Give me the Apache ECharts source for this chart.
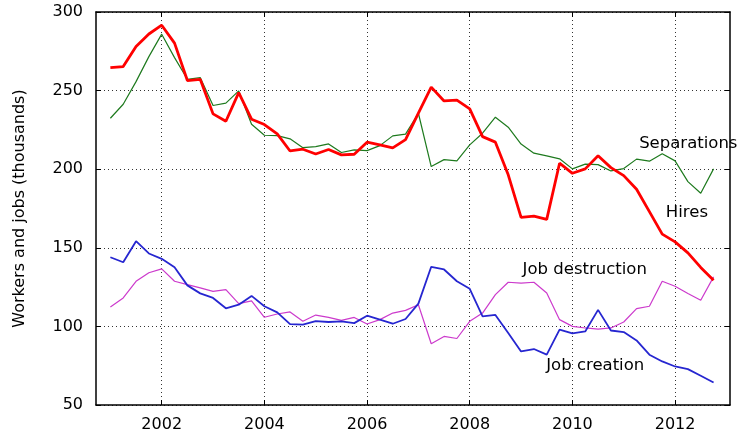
<!DOCTYPE html>
<html>
<head>
<meta charset="utf-8">
<script src="https://cdn.jsdelivr.net/npm/echarts@6/dist/echarts.min.js"></script>
<style>
html,body{margin:0;padding:0;background:#fff;}
#chart{width:741px;height:441px;}
</style>
</head>
<body>
<div id="chart"></div>
<script>
// Quarterly observations, 2001 Q1 .. 2012 Q4
var startYear = 2001;
var quartersCount = 48;
var xTicks = [2002, 2004, 2006, 2008, 2010, 2012];
var yTicks = [50, 100, 150, 200, 250, 300];

var hires = [264.6,265.3,278,286,291.6,280.2,256.4,257.2,235.2,230.5,248.7,231.8,228.4,222.5,211.6,212.7,209.7,
  212.5,209.1,209.5,217.2,215.5,213.6,218.8,235.6,252.2,243.4,243.9,238.4,220.7,217.2,196.4,
  169.4,170.2,168.1,203.8,197.4,200.2,208.5,201,195.9,187.2,173,158.7,153.8,146.8,137.5,129.4];
var separations = [232.4,241.3,255.7,271.6,285.9,271,257.2,258.3,240.5,242,249.8,228.6,221.6,221.4,219.3,213.7,214.4,
  216.1,210.6,212.3,211.8,215,221.2,222.3,235.6,201.7,206.1,205.3,215.5,222.9,233.1,226.7,
  216,210.2,208.5,206.6,200.2,203.2,202.9,198.9,200.4,206.4,205.1,209.8,205.3,192.1,184.7,200.2];
var jobCreation = [144,140.8,154.2,146.4,143,137.6,126.1,121,118.1,111.5,113.8,119.4,112.8,108.9,101.5,101.1,103.3,
  102.8,103.2,102.1,106.8,104.3,101.7,104.7,114.5,137.9,136.2,128.7,123.9,106.4,107.3,95.8,
  84.1,85.6,82,97.9,95.5,96.8,110.5,97.4,96.4,91.1,82,77.7,74.5,72.8,68.6,64.3];
var jobDestruction = [112.4,118.1,128.7,134.1,136.6,128.7,126.6,124.5,122.3,123.4,114.5,116.2,105.8,107.9,109.2,103.3,107.2,
  105.7,103.8,105.7,101.5,104.3,108.5,110.2,113.8,89,93.6,92.3,103.2,108.5,120.2,128.1,
  127.5,128.1,121.3,104.3,100,99,98.3,99,102.8,111.3,112.8,128.7,125.5,120.9,116.6,131.5];

var labelSeparations = {text: 'Separations', x: 2011.3, y: 216.4};
var labelHires = {text: 'Hires', x: 2011.82, y: 172.2};
var labelDestruction = {text: 'Job destruction', x: 2009.03, y: 136.3};
var labelCreation = {text: 'Job creation', x: 2009.49, y: 74.8};

var xs = [];
for (var i = 0; i < quartersCount; i++) xs.push(startYear + i / 4);
function pairs(vals) { return vals.map(function (v, i) { return [xs[i], v]; }); }

var FONT = 'DejaVu Sans';
function annot(lbl) {
  return {
    symbol: 'circle', symbolSize: 0, silent: true,
    label: {show: true, position: 'right', distance: 0, color: '#000', fontFamily: FONT, fontSize: 16.5,
      formatter: function () { return lbl.text; }},
    data: [{coord: [lbl.x, lbl.y]}]
  };
}

var chart = echarts.init(document.getElementById('chart'), null, {renderer: 'canvas'});
var gridLine = {show: true, lineStyle: {color: '#333', width: 1, type: [1, 3]}};
var option = {
  backgroundColor: '#fff',
  animation: false,
  grid: {left: 96, right: 11, top: 12, bottom: 36, containLabel: false},
  xAxis: [{
    type: 'value', min: 2000.72, max: 2013.07,
    axisLine: {show: true, onZero: false, lineStyle: {color: '#000', width: 1.5}},
    axisTick: {show: true, inside: true, length: 5, customValues: xTicks, lineStyle: {color: '#000'}},
    axisLabel: {show: true, customValues: xTicks, margin: 12, color: '#000', fontFamily: FONT, fontSize: 16,
      formatter: function (v) { return String(v); }},
    splitLine: gridLine
  }, {
    type: 'value', position: 'top', min: 2000.72, max: 2013.07,
    axisLine: {show: true, onZero: false, lineStyle: {color: '#000', width: 1.5}},
    axisTick: {show: true, inside: true, length: 5, customValues: xTicks, lineStyle: {color: '#000'}},
    axisLabel: {show: false}, splitLine: {show: false}
  }],
  yAxis: [{
    type: 'value', min: 50, max: 300, interval: 50,
    name: 'Workers and jobs (thousands)', nameLocation: 'middle', nameGap: 68, nameRotate: 90,
    nameTextStyle: {color: '#000', fontFamily: FONT, fontSize: 16},
    axisLine: {show: true, onZero: false, lineStyle: {color: '#000', width: 1.5}},
    axisTick: {show: true, inside: true, length: 5, lineStyle: {color: '#000'}},
    axisLabel: {color: '#000', fontFamily: FONT, fontSize: 16, margin: 13},
    splitLine: gridLine
  }, {
    type: 'value', position: 'right', min: 50, max: 300, interval: 50,
    axisLine: {show: true, onZero: false, lineStyle: {color: '#000', width: 1.5}},
    axisTick: {show: true, inside: true, length: 5, lineStyle: {color: '#000'}},
    axisLabel: {show: false}, splitLine: {show: false}
  }],
  series: [
    {name: 'Separations', type: 'line', data: pairs(separations), showSymbol: false,
      lineStyle: {color: '#1e7a1e', width: 1.2}, itemStyle: {color: '#1e7a1e'}, z: 3,
      markPoint: annot(labelSeparations)},
    {name: 'Hires', type: 'line', data: pairs(hires), showSymbol: false,
      lineStyle: {color: '#ff0000', width: 2.8}, itemStyle: {color: '#ff0000'}, z: 4,
      markPoint: annot(labelHires)},
    {name: 'Job destruction', type: 'line', data: pairs(jobDestruction), showSymbol: false,
      lineStyle: {color: '#cc3acc', width: 1.2}, itemStyle: {color: '#cc3acc'}, z: 3,
      markPoint: annot(labelDestruction)},
    {name: 'Job creation', type: 'line', data: pairs(jobCreation), showSymbol: false,
      lineStyle: {color: '#2626d0', width: 1.8}, itemStyle: {color: '#2626d0'}, z: 4,
      markPoint: annot(labelCreation)}
  ]
};
chart.setOption(option);
</script>
</body>
</html>
